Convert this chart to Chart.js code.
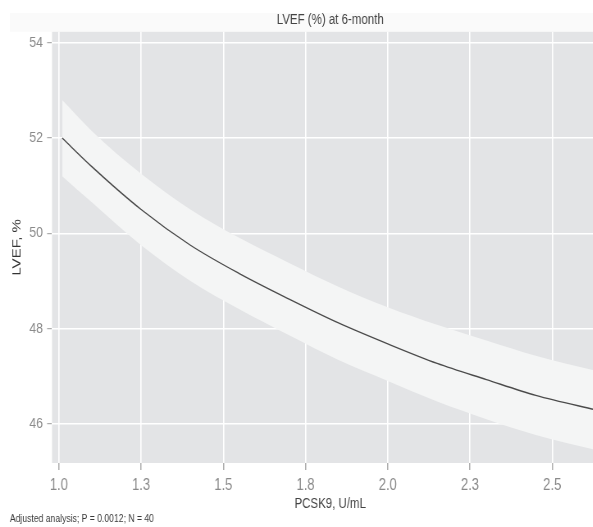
<!DOCTYPE html>
<html>
<head>
<meta charset="utf-8">
<script src="https://cdn.jsdelivr.net/npm/chart.js@4/dist/chart.umd.min.js"></script>
<style>
  html, body { margin: 0; padding: 0; overflow: hidden; background: #fff; }
  /* the reference uses a narrow font; squeeze the whole canvas sideways */
  #wrap { width: 742px; height: 527px; transform: scaleX(0.82); transform-origin: 0 0; }
</style>
</head>
<body>
<div id="wrap"><canvas id="lvefChart" width="742" height="527"></canvas></div>
<script>
// values
const pcsk9 = [1.01, 1.1, 1.25, 1.4, 1.55, 1.7, 1.85, 2.0, 2.15, 2.3, 2.45, 2.63, 2.68];
const lvefFit = [52.0, 51.4, 50.5, 49.75, 49.15, 48.62, 48.12, 47.68, 47.27, 46.93, 46.6, 46.3, 46.22];
const lvefUpper = [52.8, 52.15, 51.25, 50.5, 49.9, 49.38, 48.88, 48.45, 48.08, 47.75, 47.43, 47.12, 47.04];
const lvefLower = [51.2, 50.65, 49.75, 49.0, 48.4, 47.86, 47.34, 46.9, 46.47, 46.1, 45.77, 45.46, 45.38];

const xTickValues = [1.0, 1.25, 1.5, 1.75, 2.0, 2.25, 2.5];
const xTickLabels = ["1.0", "1.3", "1.5", "1.8", "2.0", "2.3", "2.5"];
const yTickValues = [46, 48, 50, 52, 54];
const yTickLabels = ["46", "48", "50", "52", "54"];

const titleText = "LVEF (%) at 6-month";
const xTitle = "PCSK9, U/mL";
const yTitle = "LVEF, %";
const footnote = "Adjusted analysis; P = 0.0012; N = 40";

const sans = "'Liberation Sans', Arial, sans-serif";

function toPoints(ys) {
  return pcsk9.map((x, i) => ({ x: x, y: ys[i] }));
}

// grey panel + footnote, ggplot style
const panelPlugin = {
  id: "panel",
  beforeDraw(chart) {
    const { ctx, chartArea } = chart;
    ctx.save();
    ctx.fillStyle = "#fafafa";
    ctx.fillRect(12, 13, chart.width - 12, chartArea.top - 13);
    ctx.fillStyle = "#e3e4e6";
    ctx.fillRect(chartArea.left, chartArea.top,
      chartArea.right - chartArea.left, chartArea.bottom - chartArea.top);
    ctx.restore();
  },
  afterDraw(chart) {
    const ctx = chart.ctx;
    ctx.save();
    ctx.font = "10.5px " + sans;
    ctx.fillStyle = "#3a3a3a";
    ctx.textBaseline = "middle";
    ctx.fillText(footnote, 12, 519);
    ctx.restore();
  },
};

const chart = new Chart(document.getElementById("lvefChart"), {
  type: "scatter",
  data: {
    datasets: [
      {
        label: "upper",
        data: toPoints(lvefUpper),
        showLine: true,
        borderWidth: 0,
        pointRadius: 0,
        backgroundColor: "#f4f5f5",
        fill: "+1",
        cubicInterpolationMode: "monotone",
        order: 1,
      },
      {
        label: "lower",
        data: toPoints(lvefLower),
        showLine: true,
        borderWidth: 0,
        pointRadius: 0,
        fill: false,
        cubicInterpolationMode: "monotone",
        order: 1,
      },
      {
        label: "fit",
        data: toPoints(lvefFit),
        showLine: true,
        borderColor: "#4a4a4a",
        borderWidth: 1.4,
        pointRadius: 0,
        fill: false,
        cubicInterpolationMode: "monotone",
        order: 0,
      },
    ],
  },
  options: {
    responsive: false,
    animation: false,
    layout: { padding: 0 },
    plugins: {
      legend: { display: false },
      tooltip: { enabled: false },
      title: {
        display: true,
        text: titleText,
        fullSize: false,
        color: "#444",
        font: { family: sans, size: 14, weight: "normal" },
        padding: { top: 12, bottom: 3 },
      },
    },
    scales: {
      x: {
        type: "linear",
        min: 0.979,
        max: 2.671,
        afterFit(scale) { scale.height = 64; },
        afterBuildTicks(scale) {
          scale.ticks = xTickValues.map((v) => ({ value: v }));
        },
        ticks: {
          callback: (v) => xTickLabels[xTickValues.indexOf(v)],
          color: "#8a8a8a",
          font: { family: sans, size: 16 },
          padding: 6,
          maxRotation: 0,
        },
        grid: {
          color: "#ffffff",
          lineWidth: 1.6,
          tickColor: "#9a9a9a",
          tickLength: 7,
          tickWidth: 1.2,
        },
        border: { display: false },
        title: {
          display: true,
          text: xTitle,
          color: "#444",
          font: { family: sans, size: 14 },
          padding: { top: 0, bottom: 14 },
        },
      },
      y: {
        type: "linear",
        min: 45.18,
        max: 54.23,
        afterFit(scale) { scale.width = 63.4; },
        afterBuildTicks(scale) {
          scale.ticks = yTickValues.map((v) => ({ value: v }));
        },
        ticks: {
          callback: (v) => yTickLabels[yTickValues.indexOf(v)],
          color: "#8a8a8a",
          font: { family: sans, size: 15 },
          padding: 5,
        },
        grid: {
          color: "#ffffff",
          lineWidth: 1.4,
          tickColor: "#9a9a9a",
          tickLength: 6,
          tickWidth: 1,
        },
        border: { display: false },
        title: {
          display: true,
          text: yTitle,
          color: "#333",
          font: { family: sans, size: 15 },
          padding: { top: 11.7, bottom: 0 },
        },
      },
    },
  },
  plugins: [panelPlugin],
});
</script>
</body>
</html>
